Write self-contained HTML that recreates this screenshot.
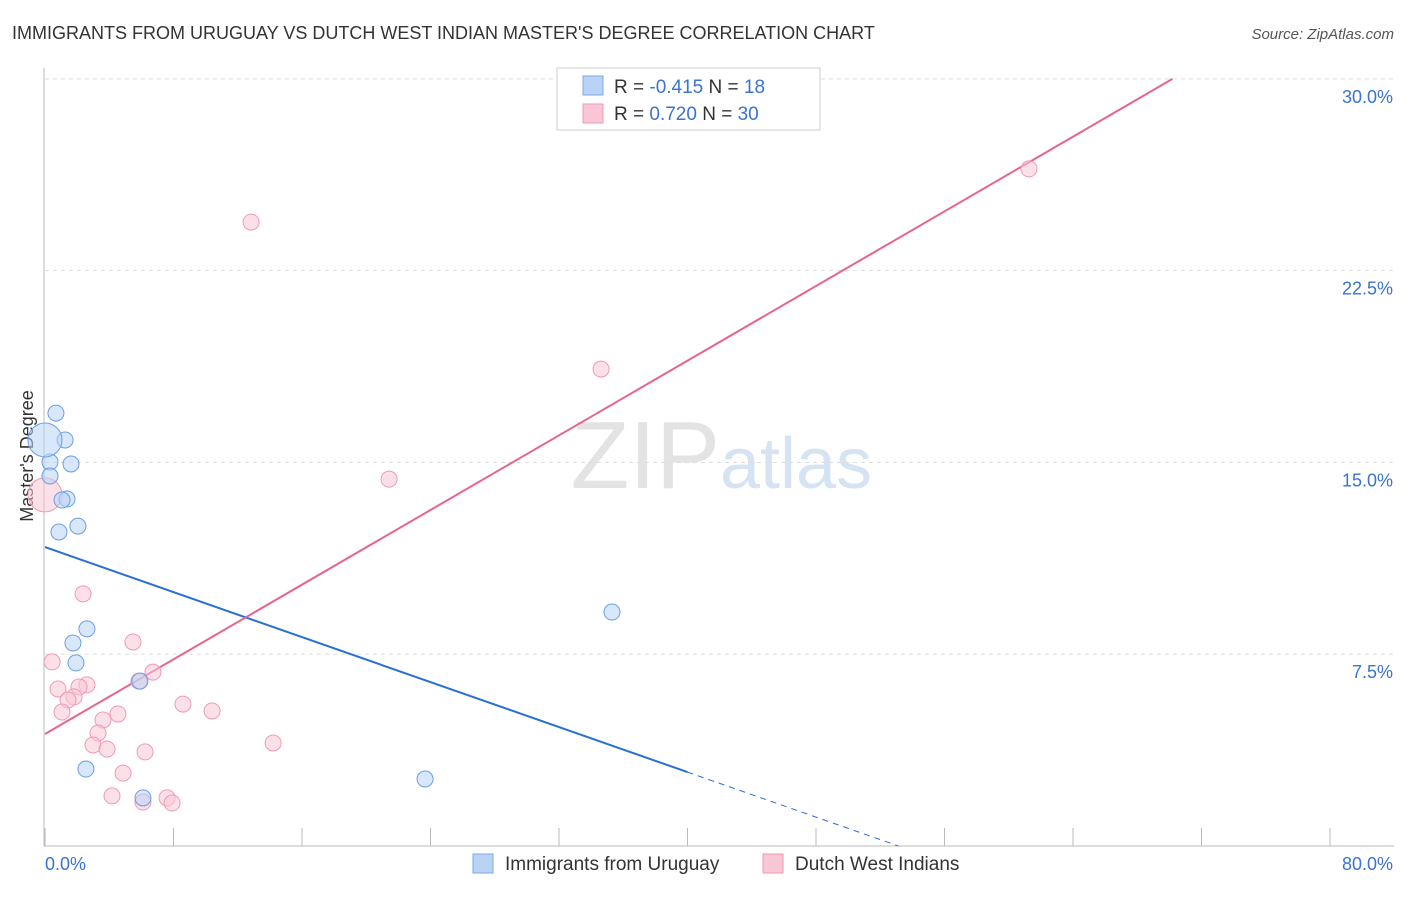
<!DOCTYPE html>
<html><head><meta charset="utf-8"><style>
body{margin:0;background:#fff;font-family:"Liberation Sans",sans-serif;}
svg text{font-family:"Liberation Sans",sans-serif;}
</style></head><body>
<svg id="chart" width="1406" height="892">
<text x="12" y="39" font-size="18" fill="#333">IMMIGRANTS FROM URUGUAY VS DUTCH WEST INDIAN MASTER'S DEGREE CORRELATION CHART</text>
<text x="1394" y="39" font-size="15" fill="#555" font-style="italic" text-anchor="end">Source: ZipAtlas.com</text>
<text x="33" y="456" font-size="18" fill="#333" text-anchor="middle" transform="rotate(-90 33 456)">Master's Degree</text>
<text x="720" y="488" font-size="96" fill="#e3e3e3" text-anchor="end" font-family="Liberation Serif">ZIP</text>
<text x="720" y="488" font-size="72" fill="#d6e3f3">atlas</text>
<g id="grid"></g><g id="axes"></g><g id="lines"></g><g id="pts"></g>
<g>
<rect x="557" y="68" width="263" height="62" fill="#fff" stroke="#ccc"/>
<rect x="583" y="76" width="20" height="19" fill="#b8d3f5" stroke="#7eaae6"/>
<rect x="583" y="104" width="20" height="19" fill="#f9c6d5" stroke="#ef9ab5"/>
<text x="614" y="93" font-size="19" fill="#333">R = <tspan fill="#3a73d0">-0.415</tspan>   N = <tspan fill="#3a73d0"> 18</tspan></text>
<text x="614" y="120" font-size="19" fill="#333">R = <tspan fill="#3a73d0"> 0.720</tspan>   N = <tspan fill="#3a73d0">30</tspan></text>
</g>
<g>
<rect x="473" y="854" width="20" height="19" fill="#b8d3f5" stroke="#7eaae6"/>
<text x="505" y="870" font-size="19" fill="#333">Immigrants from Uruguay</text>
<rect x="763" y="854" width="20" height="19" fill="#f9c6d5" stroke="#ef9ab5"/>
<text x="795" y="870" font-size="19" fill="#333">Dutch West Indians</text>
</g>
</svg>
<script>
const xTicks=[0,8,16,24,32,40,48,56,64,72,80];
const yTicks=[7.5,15,22.5,30];
const yTickLabels=["7.5%","15.0%","22.5%","30.0%"];
const xEndLabels=["0.0%","80.0%"];
const blueX=[0.68,1.25,1.62,0.31,0.31,1.37,1.06,0.87,2.05,2.61,1.74,1.93,5.91,2.55,6.10,23.66,35.30,0];
const blueY=[16.93,15.88,14.94,15.02,14.47,13.57,13.53,12.28,12.51,8.49,7.94,7.16,6.45,3.01,1.88,2.62,9.15,15.88];
const pinkX=[61.26,12.83,34.62,21.42,2.37,5.48,0.44,6.72,0.81,2.61,2.12,1.81,1.43,5.85,1.06,8.59,10.40,4.54,3.61,3.30,2.99,3.86,14.20,6.23,4.86,4.17,7.60,6.10,7.91,0];
const pinkY=[26.48,24.40,18.65,14.35,9.86,7.98,7.20,6.80,6.14,6.30,6.22,5.83,5.71,6.45,5.24,5.55,5.28,5.16,4.93,4.42,3.95,3.79,4.03,3.68,2.85,1.96,1.88,1.72,1.68,13.73];
const blueTrend=[11.69,-0.22];
const pinkTrend=[4.38,0.365];
const NS="http://www.w3.org/2000/svg";
const X=v=>45+v*(1285/80), Y=v=>846-v*25.57;
function mk(p,t,a){const e=document.createElementNS(NS,t);for(const k in a)e.setAttribute(k,a[k]);document.getElementById(p).appendChild(e);return e;}
yTicks.forEach((t,i)=>{
 const l=mk('grid','line',{x1:45,x2:1394,y1:Y(t),y2:Y(t),stroke:'#ddd','stroke-dasharray':'4 4'});
 
 
 const tx=mk('grid','text',{x:1393,y:Y(t)+24,'font-size':18,fill:'#3a73d0','text-anchor':'end'});tx.textContent=yTickLabels[i];
 
 
});
mk('axes','line',{x1:44,x2:44,y1:68,y2:846,stroke:'#bbb'});
mk('axes','line',{x1:44,x2:1394,y1:846,y2:846,stroke:'#bbb'});
xTicks.forEach(t=>{const l=mk('axes','line',{x1:X(t),x2:X(t),y1:828,y2:846,stroke:'#bbb'});
 
 });
const a=mk('axes','text',{x:45,y:870,'font-size':18,fill:'#3a73d0'});a.textContent=xEndLabels[0];


const b=mk('axes','text',{x:1393,y:870,'font-size':18,fill:'#3a73d0','text-anchor':'end'});b.textContent=xEndLabels[1];


// trend lines
const bl=mk('lines','line',{x1:X(0),y1:Y(blueTrend[0]),x2:X(40),y2:Y(blueTrend[0]+blueTrend[1]*40),stroke:'#2a6fd6','stroke-width':2});


const xe=-blueTrend[0]/blueTrend[1];
const bd=mk('lines','line',{x1:X(40),y1:Y(blueTrend[0]+blueTrend[1]*40),x2:X(xe),y2:Y(0),stroke:'#2a6fd6','stroke-width':1,'stroke-dasharray':'6 5'});


const xp=(30-pinkTrend[0])/pinkTrend[1];
const pl=mk('lines','line',{x1:X(0),y1:Y(pinkTrend[0]),x2:X(xp),y2:Y(30),stroke:'#e8638f','stroke-width':2});


pinkX.forEach((v,i)=>{const big=i===pinkX.length-1;
 const c=mk('pts','circle',{cx:X(v),cy:Y(pinkY[i]),r:big?17:8,fill:'#f9c6d5','fill-opacity':0.55,stroke:'#ef9ab5','stroke-width':1});
 
 });
blueX.forEach((v,i)=>{const big=i===blueX.length-1;
 const c=mk('pts','circle',{cx:X(v),cy:Y(blueY[i]),r:big?17:8,fill:'#b8d3f5','fill-opacity':0.55,stroke:'#6b9ee6','stroke-width':1});
 
 });
</script>
</body></html>
